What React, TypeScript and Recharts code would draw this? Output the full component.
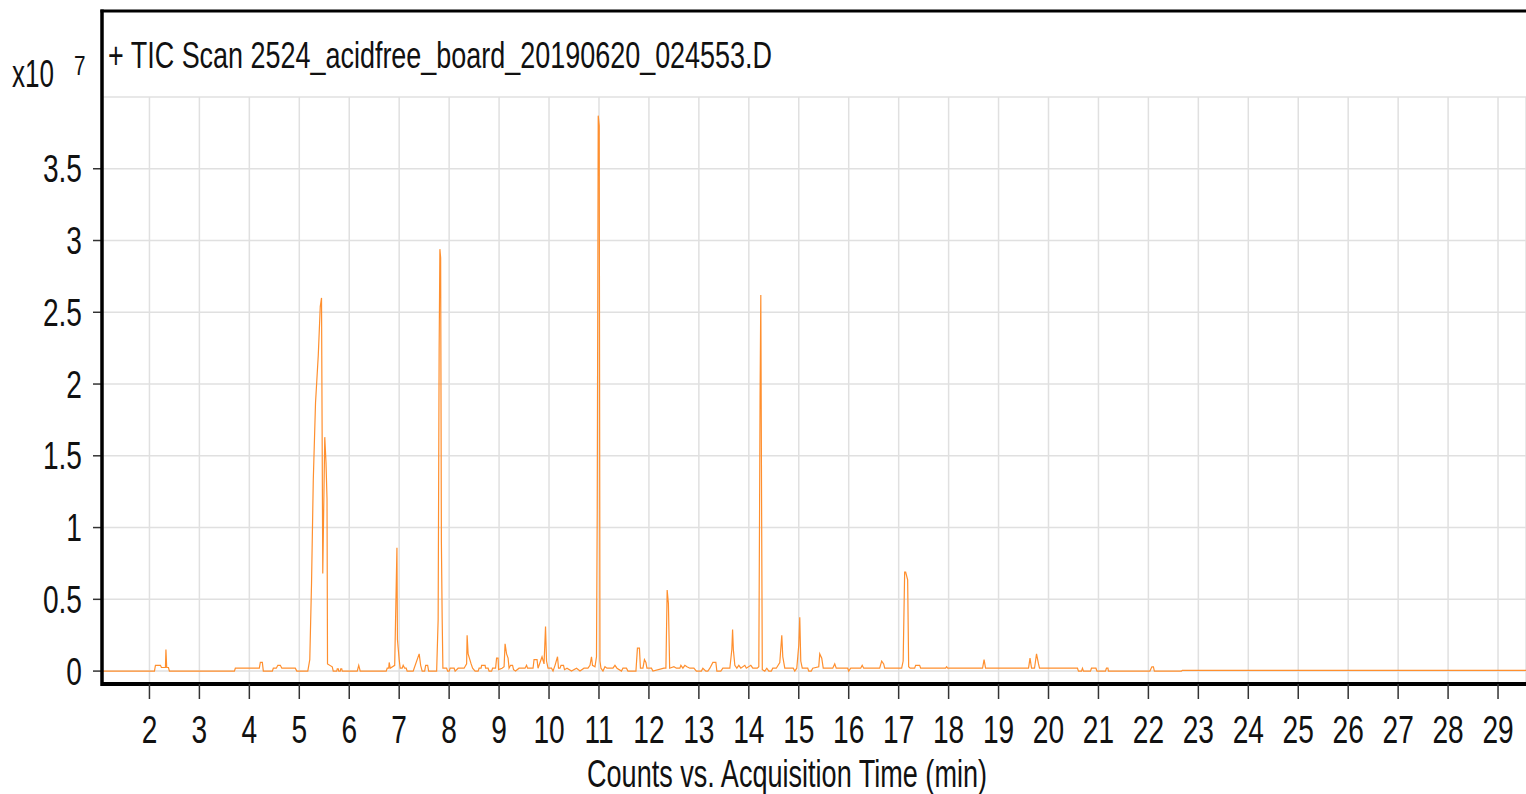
import { LineChart, Line, XAxis, YAxis, CartesianGrid } from 'recharts';

const FONT = "'Liberation Sans Narrow', 'Arial Narrow', 'Liberation Sans', Arial, sans-serif";
const NARROW = 0.74;

// retention time (min) and TIC counts (x10^7)
const retentionTimes = [
  1.05, 2.1, 2.12, 2.22, 2.24, 2.32, 2.33, 2.345, 2.38, 2.4,
  3.7, 3.72, 4.2, 4.22, 4.26, 4.28, 4.46, 4.48, 4.54, 4.57,
  4.62, 4.65, 4.92, 4.95, 5.17, 5.21, 5.245, 5.28, 5.325, 5.38,
  5.42, 5.445, 5.47, 5.51, 5.535, 5.555, 5.565, 5.66, 5.68, 5.75,
  5.76, 5.78, 5.79, 5.82, 5.83, 5.85, 5.86, 6.16, 6.19, 6.22,
  6.74, 6.76, 6.79, 6.8, 6.82, 6.91, 6.955, 6.965, 7.0, 7.02,
  7.06, 7.08, 7.11, 7.14, 7.16, 7.28, 7.3, 7.4, 7.43, 7.46,
  7.51, 7.53, 7.57, 7.59, 7.75, 7.78, 7.8, 7.815, 7.83, 7.845,
  7.86, 7.875, 7.95, 7.97, 8.0, 8.02, 8.1, 8.12, 8.18, 8.3,
  8.35, 8.36, 8.38, 8.44, 8.47, 8.52, 8.58, 8.6, 8.64, 8.65,
  8.72, 8.73, 8.78, 8.8, 8.85, 8.87, 8.93, 8.95, 8.98, 8.99,
  9.06, 9.1, 9.12, 9.15, 9.18, 9.2, 9.23, 9.27, 9.29, 9.33,
  9.4, 9.52, 9.55, 9.57, 9.68, 9.7, 9.76, 9.78, 9.82, 9.86,
  9.9, 9.93, 9.95, 9.98, 10.05, 10.08, 10.12, 10.17, 10.19, 10.22,
  10.24, 10.29, 10.31, 10.36, 10.45, 10.55, 10.62, 10.7, 10.78, 10.82,
  10.85, 10.87, 10.92, 10.95, 10.965, 10.985, 11.005, 11.02, 11.04, 11.08,
  11.12, 11.16, 11.22, 11.28, 11.32, 11.36, 11.45, 11.48, 11.55, 11.58,
  11.74, 11.77, 11.81, 11.83, 11.88, 11.91, 11.94, 11.96, 12.05, 12.08,
  12.3, 12.34, 12.365, 12.39, 12.415, 12.5, 12.55, 12.62, 12.64, 12.68,
  12.72, 12.76, 12.82, 12.9, 12.95, 13.05, 13.08, 13.14, 13.18, 13.22,
  13.28, 13.34, 13.36, 13.44, 13.48, 13.62, 13.66, 13.675, 13.69, 13.72,
  13.76, 13.8, 13.84, 13.92, 13.95, 14.04, 14.08, 14.17, 14.2, 14.215,
  14.225, 14.24, 14.255, 14.27, 14.32, 14.36, 14.4, 14.45, 14.48, 14.55,
  14.62, 14.66, 14.68, 14.72, 14.89, 14.92, 14.96, 15.0, 15.02, 15.04,
  15.07, 15.18, 15.2, 15.25, 15.28, 15.4, 15.42, 15.46, 15.49, 15.68,
  15.72, 15.75, 15.98, 16.0, 16.04, 16.24, 16.27, 16.3, 16.62, 16.66,
  16.7, 16.72, 17.06, 17.09, 17.12, 17.14, 17.18, 17.2, 17.23, 17.32,
  17.34, 17.42, 17.44, 17.94, 17.96, 17.98, 18.68, 18.71, 18.74, 19.6,
  19.63, 19.66, 19.72, 19.76, 19.8, 19.82, 20.58, 20.6, 20.66, 20.68,
  20.7, 20.84, 20.86, 20.95, 20.97, 21.14, 21.16, 21.19, 21.2, 22.03,
  22.07, 22.1, 22.12, 22.66, 22.68, 29.56,
];

const countsE7 = [
  0, 0, 0.04, 0.04, 0.025, 0.025, 0.15, 0.025, 0.025, 0,
  0, 0.02, 0.02, 0.06, 0.06, 0, 0, 0.02, 0.02, 0.04,
  0.04, 0.02, 0.02, 0, 0, 0.08, 0.61, 1.33, 1.87, 2.2,
  2.54, 2.6, 0.68, 1.63, 1.45, 1.2, 0.05, 0.03, 0, 0,
  0.015, 0.015, 0, 0, 0.015, 0.015, 0, 0, 0.04, 0,
  0, 0.02, 0.02, 0.06, 0.02, 0.04, 0.86, 0.22, 0.08, 0.02,
  0.02, 0.04, 0.02, 0.02, 0, 0, 0.02, 0.12, 0.04, 0,
  0, 0.04, 0.04, 0, 0, 0.36, 2.24, 2.94, 2.88, 0.9,
  0.38, 0.02, 0.02, 0, 0, 0.02, 0.02, 0, 0.02, 0.02,
  0.05, 0.25, 0.12, 0.05, 0.02, 0, 0, 0.02, 0.02, 0.04,
  0.04, 0.02, 0.02, 0, 0, 0.02, 0.02, 0.09, 0.09, 0.01,
  0.02, 0.03, 0.19, 0.12, 0.09, 0.02, 0.04, 0.04, 0.01, 0,
  0.02, 0.02, 0.04, 0.02, 0.02, 0.08, 0.08, 0.02, 0.06, 0.1,
  0.05, 0.31, 0.07, 0.02, 0.02, 0, 0.04, 0.1, 0.02, 0.02,
  0.04, 0.04, 0.01, 0.02, 0, 0.02, 0, 0.02, 0.02, 0.04,
  0.1, 0.04, 0.03, 0.1, 1.1, 3.87, 3.8, 0.07, 0.02, 0,
  0.03, 0.02, 0.02, 0.02, 0.04, 0.02, 0, 0.02, 0.02, 0,
  0, 0.16, 0.16, 0.02, 0.02, 0.08, 0.06, 0.02, 0.02, 0,
  0.02, 0.02, 0.565, 0.47, 0.02, 0.03, 0.02, 0.02, 0.04, 0.02,
  0.04, 0.03, 0.02, 0.02, 0, 0, 0.02, 0, 0, 0.02,
  0.06, 0.06, 0, 0, 0.02, 0.02, 0.15, 0.29, 0.15, 0.04,
  0.02, 0.04, 0.02, 0.04, 0.02, 0.04, 0.02, 0.02, 0.03, 1.1,
  1.91, 2.62, 1.22, 0.01, 0, 0.02, 0, 0, 0.02, 0.02,
  0.06, 0.25, 0.1, 0.02, 0.02, 0, 0.02, 0.18, 0.375, 0.07,
  0.02, 0.02, 0, 0, 0.02, 0.03, 0.12, 0.09, 0.02, 0.02,
  0.05, 0.02, 0.02, 0, 0.02, 0.02, 0.04, 0.02, 0.02, 0.07,
  0.05, 0.02, 0.02, 0.07, 0.69, 0.69, 0.635, 0.03, 0.02, 0.02,
  0.04, 0.04, 0.02, 0.02, 0.03, 0.02, 0.02, 0.08, 0.02, 0.02,
  0.09, 0.02, 0.02, 0.12, 0.05, 0.02, 0.02, 0, 0, 0.02,
  0, 0, 0.02, 0.02, 0, 0, 0.02, 0.02, 0, 0,
  0.03, 0.03, 0, 0, 0.005, 0.005,
];

const timeTicks = [
  2, 3, 4, 5, 6, 7, 8, 9, 10, 11, 12, 13, 14, 15, 16,
  17, 18, 19, 20, 21, 22, 23, 24, 25, 26, 27, 28, 29,
];
const countTicks = [0, 0.5, 1, 1.5, 2, 2.5, 3, 3.5];

const title = '+ TIC Scan 2524_acidfree_board_20190620_024553.D';
const xTitle = 'Counts vs. Acquisition Time (min)';

const data = retentionTimes.map((t, i) => ({ t, v: countsE7[i] }));

function TimeTick({ x, y, payload }: any) {
  return (
    <text
      transform={`translate(${x} ${y + 28}) scale(${NARROW} 1)`}
      textAnchor="middle"
      fontFamily={FONT}
      fontSize={38}
      fill="#111"
    >
      {payload.value}
    </text>
  );
}

function CountTick({ x, y, payload }: any) {
  return (
    <text
      transform={`translate(${x} ${y + 13.5}) scale(${NARROW} 1)`}
      textAnchor="end"
      fontFamily={FONT}
      fontSize={38}
      fill="#111"
    >
      {payload.value}
    </text>
  );
}

export default function App() {
  return (
    <div style={{ position: 'fixed', left: 0, top: 0, width: 1526, height: 794, background: '#fff' }}>
      <LineChart
        width={1526}
        height={794}
        data={data}
        margin={{ top: 97, right: 0, bottom: 0, left: 0 }}
      >
        <CartesianGrid stroke="#e0e0e0" strokeWidth={1.5} />
        <XAxis
          dataKey="t"
          type="number"
          domain={[1.05, 29.56]}
          ticks={timeTicks}
          allowDataOverflow
          height={110}
          axisLine={{ stroke: '#000', strokeWidth: 4 }}
          tickLine={{ stroke: '#333', strokeWidth: 1.5 }}
          tickSize={15}
          tickMargin={16}
          tick={<TimeTick />}
          interval={0}
        />
        <YAxis
          type="number"
          domain={[-0.09, 4.0]}
          ticks={countTicks}
          allowDataOverflow
          width={102}
          axisLine={false}
          tickLine={{ stroke: '#333', strokeWidth: 1.5 }}
          tickSize={9}
          tickMargin={11}
          tick={<CountTick />}
          interval={0}
        />
        <Line
          type="linear"
          dataKey="v"
          stroke="#ff8f2e"
          strokeWidth={1.2}
          dot={false}
          isAnimationActive={false}
        />
      </LineChart>
      <svg
        width={1526}
        height={794}
        style={{ position: 'absolute', left: 0, top: 0, pointerEvents: 'none' }}
      >
        <line x1={102} y1={9.5} x2={102} y2={686} stroke="#000" strokeWidth={3.5} />
        <line x1={100.5} y1={11} x2={1526} y2={11} stroke="#000" strokeWidth={3} />
        <text x={108} y={68} fontFamily={FONT} fontSize={37} fill="#111" textLength={664} lengthAdjust="spacingAndGlyphs">
          {title}
        </text>
        <text x={12} y={87} fontFamily={FONT} fontSize={38} fill="#111" textLength={42} lengthAdjust="spacingAndGlyphs">
          x10
        </text>
        <text transform={`translate(74 75) scale(${NARROW} 1)`} fontFamily={FONT} fontSize={28} fill="#111">
          7
        </text>
        <text x={587} y={787} fontFamily={FONT} fontSize={38} fill="#111" textLength={400} lengthAdjust="spacingAndGlyphs">
          {xTitle}
        </text>
      </svg>
    </div>
  );
}
